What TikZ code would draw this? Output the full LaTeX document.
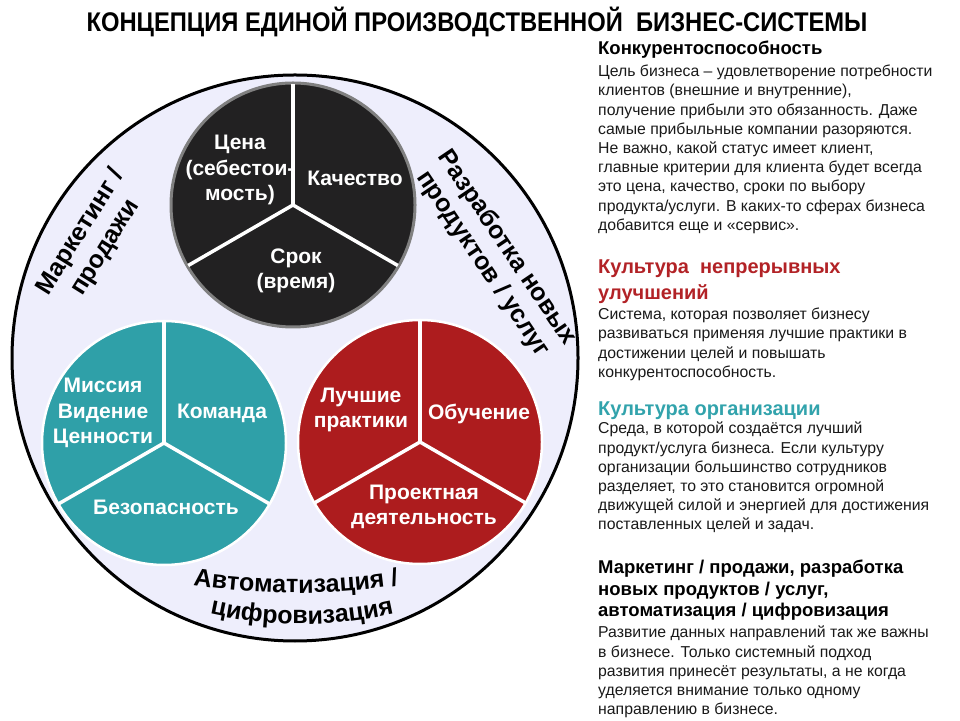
\documentclass[tikz,border=0pt]{standalone}
\usepackage{fontspec}
\setmainfont{Liberation Sans}
\newfontfamily\narrowfont[FakeStretch=0.88]{Liberation Sans}
\usetikzlibrary{decorations.text}
\definecolor{lavender}{RGB}{238,238,252}
\definecolor{coal}{RGB}{34,33,34}
\definecolor{rim}{RGB}{128,128,128}
\definecolor{tealpie}{RGB}{47,160,168}
\definecolor{redpie}{RGB}{173,28,30}
\definecolor{redhead}{RGB}{178,34,38}
\definecolor{tealhead}{RGB}{50,163,172}
\newcommand{\bandfont}{\bfseries\fontsize{25}{29}\selectfont}

\begin{document}
\begin{tikzpicture}[x=1pt, y=1pt,
    pielabel/.style={text=white, font=\bfseries\fontsize{21}{25.5}\selectfont, align=center},
    bandlabel/.style={font=\bandfont, align=center},
    head/.style={anchor=north west, inner sep=0pt, align=left, font=\bfseries\fontsize{18.5}{21.5}\selectfont},
    body/.style={anchor=north west, inner sep=0pt, align=left, font=\fontsize{15.8}{19.2}\selectfont, text=black!90}]
  \useasboundingbox (0,0) rectangle (960,720);
  \node[font=\narrowfont\bfseries\fontsize{27}{30}\selectfont] (title) at (477,698) {КОНЦЕПЦИЯ ЕДИНОЙ ПРОИЗВОДСТВЕННОЙ\ \ БИЗНЕС-СИСТЕМЫ};

  \draw[line width=3pt, fill=lavender] (295,362) circle (283);
  \draw[line width=3pt, draw=rim, fill=coal] (293,515) circle (122);
  \draw[line width=2.5pt, draw=white, fill=tealpie] (164,277) circle (122);
  \draw[line width=2.5pt, draw=white, fill=redpie] (420,278) circle (122);
  \foreach \c in {(293,515), (164,277), (420,278)}
    \foreach \a in {90, 210, 330}
      \draw[white, line width=3.5pt] \c -- ++(\a:121);

  \node[pielabel] (cost) at (240,550) {Цена\\(себестои-\\мость)};
  \node[pielabel] (quality) at (355,542) {Качество};
  \node[pielabel] (term) at (296,449) {Срок\\(время)};
  \node[pielabel] (mission) at (103,307) {Миссия\\Видение\\Ценности};
  \node[pielabel] (team) at (222,307) {Команда};
  \node[pielabel] (safety) at (166,213) {Безопасность};
  \node[pielabel] (practice) at (361,310) {Лучшие\\практики};
  \node[pielabel] (learning) at (479,306) {Обучение};
  \node[pielabel] (projects) at (424,213) {Проектная\\деятельность};

  \node[bandlabel, rotate=58] (sales) at (93,480) {Маркетинг /\\продажи};
  \node[bandlabel, rotate=-56] (products) at (495,464) {Разработка новых\\продуктов / услуг};
  \path[decorate, decoration={text along path, text align=center, text={|\bandfont|Автоматизация /}}]
    ([shift={(250:693)}]296,820) arc[start angle=250, end angle=290, radius=693];
  \path[decorate, decoration={text along path, text align=center, text={|\bandfont|цифровизация}}]
    ([shift={(250:423)}]302,519) arc[start angle=250, end angle=290, radius=423];

  \node[head] (compHead) at (598,679) {Конкурентоспособность};
  \node[body] (compText) at (598,655) {Цель бизнеса -- удовлетворение потребности\\клиентов (внешние и внутренние),\\получение прибыли это обязанность. Даже\\самые прибыльные компании разоряются.\\Не важно, какой статус имеет клиент,\\главные критерии для клиента будет всегда\\это цена, качество, сроки по выбору\\продукта/услуги. В каких-то сферах бизнеса\\добавится еще и «сервис».};
  \node[head, text=redhead, font=\bfseries\fontsize{20}{26}\selectfont] (kaizenHead) at (598,460) {Культура\ \ непрерывных\\улучшений};
  \node[body] (kaizenText) at (598,412) {Система, которая позволяет бизнесу\\развиваться применяя лучшие практики в\\достижении целей и повышать\\конкурентоспособность.};
  \node[head, text=tealhead, font=\bfseries\fontsize{20}{26}\selectfont] (cultHead) at (598,318) {Культура организации};
  \node[body] (cultText) at (598,298) {Среда, в которой создаётся лучший\\продукт/услуга бизнеса. Если культуру\\организации большинство сотрудников\\разделяет, то это становится огромной\\движущей силой и энергией для достижения\\поставленных целей и задач.};
  \node[head] (dirHead) at (598,160) {Маркетинг / продажи, разработка\\новых продуктов / услуг,\\автоматизация / цифровизация};
  \node[body] (dirText) at (598,94) {Развитие данных направлений так же важны\\в бизнесе. Только системный подход\\развития принесёт результаты, а не когда\\уделяется внимание только одному\\направлению в бизнесе.};
\end{tikzpicture}
\end{document}
